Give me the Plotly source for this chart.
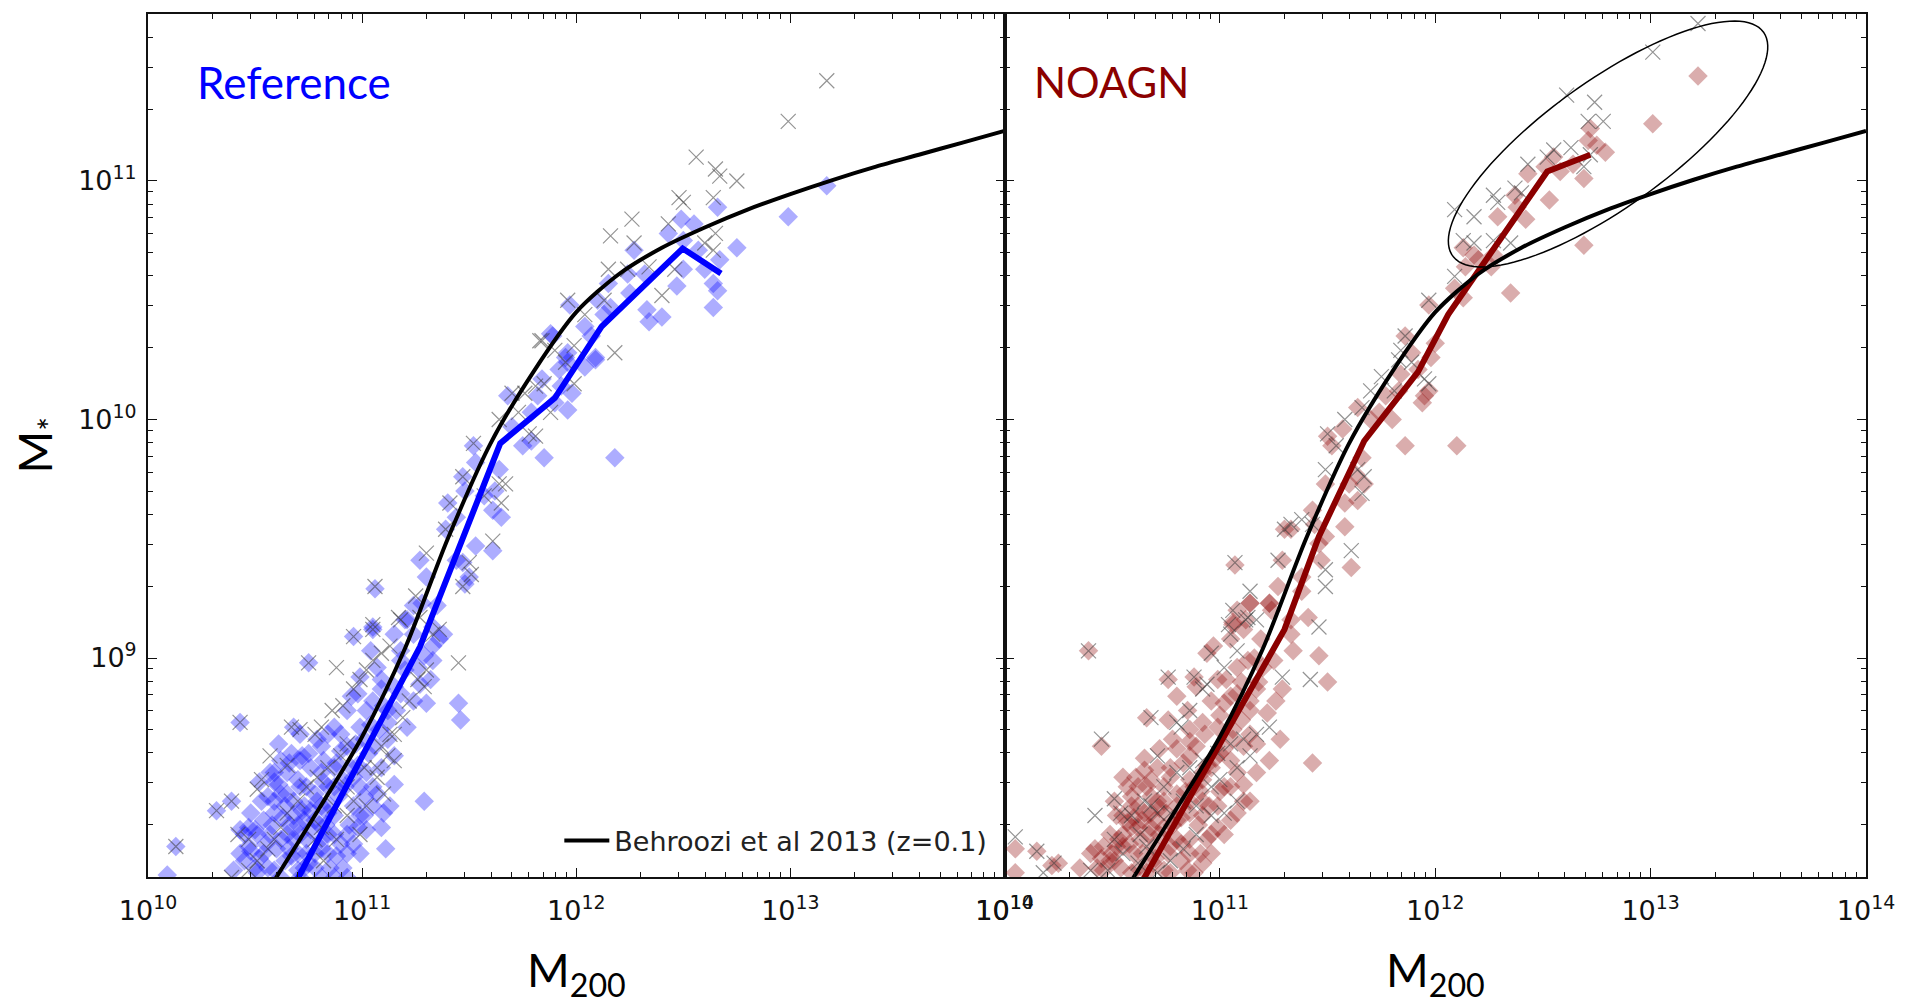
import numpy as np
import plotly.graph_objects as go

# ---------------- data (log10 values) ----------------
tick_vals_x = [1e10, 1e11, 1e12, 1e13, 1e14]
tick_text_x = ["10<sup>10</sup>", "10<sup>11</sup>", "10<sup>12</sup>", "10<sup>13</sup>", "10<sup>14</sup>"]
tick_vals_y = [1e9, 1e10, 1e11]
tick_text_y = ["10<sup>9</sup>", "10<sup>10</sup>", "10<sup>11</sup>"]

panel_labels = ["Reference", "NOAGN"]
legend_label = "Behroozi et al 2013 (z=0.1)"

# Behroozi et al 2013 relation (log M200, log M*)
behroozi_logm200 = [10.55, 10.8, 11.0, 11.2, 11.4, 11.6, 11.8, 12.0, 12.2, 12.4, 12.6, 12.8, 13.0, 13.2,
                    13.4, 13.6, 13.8, 14.0]
behroozi_logmstar = [8.01, 8.37, 8.67, 9.04, 9.50, 9.90, 10.20, 10.45, 10.61, 10.72, 10.805, 10.88, 10.945,
                     11.005, 11.06, 11.11, 11.16, 11.21]

# Median relations
ref_median_logm200 = [10.62, 11.27, 11.645, 11.90, 12.118, 12.497, 12.676]
ref_median_logmstar = [7.94, 9.047, 9.90, 10.09, 10.389, 10.717, 10.612]
noagn_median_logm200 = [10.60, 11.10, 11.30, 11.46, 11.67, 11.92, 12.06, 12.52, 12.72]
noagn_median_logmstar = [8.00, 8.80, 9.12, 9.51, 9.91, 10.20, 10.44, 11.04, 11.11]

# Reference run: galaxies (diamonds), (log M200, log M*)
ref_galaxies = [
    (10.13, 8.21), (10.32, 8.36), (10.39, 8.40), (10.43, 8.73), (10.75, 8.98), (10.96, 9.09), (11.05, 9.12),
    (11.11, 8.20), (11.29, 8.40), (11.30, 8.81), (10.09, 8.09), (10.52, 8.48), (10.59, 8.48), (10.57, 8.52),
    (10.61, 8.64), (10.68, 8.71), (10.71, 8.68), (10.72, 8.59), (10.79, 8.66), (10.81, 8.63), (10.84, 8.68),
    (10.87, 8.71), (10.93, 8.78), (10.90, 8.61), (10.98, 8.85), (10.99, 8.71), (11.02, 8.78), (11.01, 8.66),
    (11.05, 8.82), (11.09, 8.87), (11.12, 8.78), (11.15, 8.88), (11.18, 8.85), (11.21, 8.71), (11.24, 8.82),
    (11.27, 8.89), (11.32, 8.91), (11.33, 8.99), (11.36, 9.08), (11.33, 9.05), (11.18, 9.03), (11.15, 9.10),
    (11.21, 9.16), (11.24, 9.22), (11.07, 8.96), (11.04, 9.03), (10.99, 8.92), (10.95, 8.84), (11.09, 8.91),
    (11.12, 8.66), (11.15, 8.59), (11.09, 8.54), (11.15, 8.47), (11.10, 8.35), (11.13, 8.38), (11.07, 8.43),
    (10.99, 8.46), (10.96, 8.38), (10.93, 8.26), (10.87, 8.34), (10.84, 8.26), (10.81, 8.20), (10.78, 8.12),
    (10.74, 8.18), (10.71, 8.26), (10.68, 8.34), (10.64, 8.38), (10.62, 8.43), (10.59, 8.40), (10.54, 8.32),
    (10.51, 8.26), (10.47, 8.21), (10.45, 8.15), (10.50, 8.12), (10.54, 8.18), (10.62, 8.24), (10.67, 8.17),
    (10.59, 8.11), (10.70, 8.11), (10.85, 8.12), (10.88, 8.17), (10.93, 8.18), (10.91, 8.12), (10.98, 8.29),
    (11.01, 8.34), (11.05, 8.46), (11.02, 8.52), (10.95, 8.54), (10.91, 8.49), (10.87, 8.54), (10.84, 8.46),
    (10.79, 8.40), (10.74, 8.46), (10.73, 8.38), (10.78, 8.32), (10.70, 8.49), (10.65, 8.52), (10.82, 8.57),
    (10.93, 8.63), (10.90, 8.68), (11.18, 8.99), (11.26, 8.96), (11.29, 9.01), (11.24, 9.10), (11.33, 9.13),
    (11.38, 9.10), (11.35, 9.22), (10.45, 8.26), (10.43, 8.28), (10.40, 8.11), (10.50, 8.28), (10.56, 8.42),
    (10.59, 8.35), (10.65, 8.43), (10.68, 8.40), (10.71, 8.46), (10.78, 8.43), (10.81, 8.38), (10.84, 8.35),
    (10.73, 8.32), (10.65, 8.26), (10.68, 8.24), (10.74, 8.24), (10.81, 8.24), (10.87, 8.26), (10.78, 8.18),
    (10.73, 8.12), (10.64, 8.15), (10.56, 8.12), (10.51, 8.10), (10.62, 8.08), (10.71, 8.08), (10.81, 8.08),
    (10.87, 8.08), (10.93, 8.08), (10.99, 8.18), (10.96, 8.22), (11.02, 8.28), (11.05, 8.38), (11.09, 8.29),
    (11.01, 8.42), (10.87, 8.46), (10.81, 8.52), (10.76, 8.54), (10.71, 8.57), (10.67, 8.60), (10.62, 8.57),
    (10.59, 8.52), (10.53, 8.40), (10.48, 8.35), (10.47, 8.29), (10.43, 8.18),
    (10.55, 8.22), (10.58, 8.30), (10.63, 8.33), (10.66, 8.30), (10.70, 8.30), (10.72, 8.36), (10.76, 8.36),
    (10.76, 8.28), (10.80, 8.30), (10.83, 8.30), (10.85, 8.38), (10.89, 8.42), (10.92, 8.46), (10.96, 8.50),
    (10.98, 8.55), (11.03, 8.60), (11.06, 8.63), (11.08, 8.70), (11.12, 8.73), (11.16, 8.78), (10.60, 8.20),
    (10.66, 8.20), (10.70, 8.18), (10.75, 8.14), (10.84, 8.18), (10.90, 8.22), (10.94, 8.30), (10.99, 8.34),
    (10.52, 8.16), (10.48, 8.19), (10.57, 8.26), (10.61, 8.47), (10.66, 8.56), (10.75, 8.60), (10.82, 8.48),
    (10.88, 8.56), (10.97, 8.64), (11.04, 8.72), (11.10, 8.80), (11.20, 8.95),
    (11.06, 9.29), (11.05, 9.13), (11.20, 9.16), (11.28, 9.23), (11.27, 9.41), (11.30, 9.34), (11.39, 9.54),
    (11.40, 9.65), (11.44, 9.59), (11.47, 9.76), (11.48, 9.70), (11.53, 9.47), (11.44, 9.41), (11.47, 9.40),
    (11.48, 9.31), (11.50, 9.34), (11.57, 9.68), (11.61, 9.62), (11.62, 9.70), (11.64, 9.79), (11.65, 9.59),
    (11.61, 9.45), (11.53, 9.82), (11.52, 9.89), (11.68, 10.10), (11.70, 9.97), (11.75, 9.89), (11.79, 9.91),
    (11.82, 10.10), (11.85, 9.84), (11.84, 10.17), (11.90, 10.07), (11.93, 10.14), (11.96, 10.04),
    (11.98, 10.11), (11.96, 10.24), (11.95, 10.26), (12.04, 10.22), (12.07, 10.35), (12.09, 10.25),
    (11.92, 10.21), (11.88, 10.36), (11.79, 10.03),
    (11.89, 10.35), (11.97, 10.48), (12.04, 10.39), (12.10, 10.50), (12.13, 10.44), (12.15, 10.57),
    (12.16, 10.47), (12.25, 10.53), (12.27, 10.71), (12.24, 10.61), (12.32, 10.61), (12.33, 10.46),
    (12.34, 10.41), (12.40, 10.43), (12.43, 10.78), (12.47, 10.56), (12.49, 10.84), (12.50, 10.75),
    (12.50, 10.63), (12.55, 10.82), (12.57, 10.71), (12.60, 10.63), (12.64, 10.47), (12.64, 10.57),
    (12.66, 10.54), (12.66, 10.89), (12.67, 10.67), (12.75, 10.72), (12.99, 10.85), (13.17, 10.98),
    (11.96, 10.28), (12.09, 10.26), (12.18, 9.84), (11.45, 8.81), (11.46, 8.74),
]

# Reference run: crosses
ref_crosses = [
    (10.13, 8.21), (10.32, 8.36), (10.39, 8.40), (10.43, 8.73), (10.75, 8.98), (10.88, 8.96), (10.96, 9.09),
    (11.05, 9.12), (10.57, 8.59), (10.65, 8.55), (10.51, 8.45), (10.53, 8.49), (10.67, 8.71), (10.71, 8.70),
    (10.78, 8.68), (10.81, 8.71), (10.86, 8.78), (10.91, 8.80), (10.96, 8.87), (10.99, 8.91), (11.02, 8.95),
    (11.05, 8.99), (11.09, 9.02), (11.13, 9.05), (11.18, 9.16), (11.27, 9.17), (11.33, 9.10), (11.36, 9.12),
    (11.30, 8.95), (11.29, 8.88), (11.13, 8.68), (11.09, 8.63), (11.12, 8.59), (11.15, 8.57), (11.10, 8.43),
    (11.07, 8.50), (11.01, 8.54), (10.93, 8.64), (10.90, 8.59), (10.84, 8.54), (10.79, 8.50), (10.74, 8.46),
    (10.70, 8.40), (10.65, 8.35), (10.62, 8.29), (10.59, 8.24), (10.56, 8.20), (10.51, 8.15), (10.47, 8.11),
    (10.42, 8.26), (10.47, 8.24), (10.39, 8.08), (10.78, 8.24), (10.81, 8.29), (10.87, 8.38), (10.93, 8.34),
    (10.96, 8.40), (10.99, 8.26), (10.88, 8.24), (10.82, 8.15), (10.93, 8.46), (11.02, 8.38), (11.07, 8.54),
    (11.15, 8.68), (11.19, 8.75), (11.22, 8.82), (11.26, 8.91),
    (11.06, 9.30), (11.05, 9.14), (11.17, 9.17), (11.25, 9.26), (11.30, 9.44), (11.39, 9.54), (11.41, 9.65),
    (11.47, 9.76), (11.52, 9.90), (11.57, 9.68), (11.64, 9.73), (11.67, 9.73), (11.65, 9.65), (11.61, 9.49),
    (11.47, 9.30), (11.51, 9.35), (11.50, 9.40), (11.70, 10.11), (11.64, 10.00), (11.73, 10.03),
    (11.78, 9.94), (11.81, 9.93), (11.76, 10.11), (11.81, 10.14), (11.85, 10.15), (11.84, 10.33),
    (11.90, 10.29), (11.95, 10.24), (11.99, 10.31), (11.88, 10.03), (11.99, 10.15),
    (11.83, 10.33), (11.96, 10.50), (12.04, 10.44), (12.15, 10.63), (12.13, 10.50), (12.16, 10.77),
    (12.26, 10.84), (12.27, 10.74), (12.24, 10.63), (12.34, 10.64), (12.40, 10.52), (12.43, 10.82),
    (12.48, 10.93), (12.50, 10.91), (12.46, 10.63), (12.56, 11.10), (12.64, 10.93), (12.65, 11.05),
    (12.67, 11.02), (12.75, 11.00), (12.60, 10.74), (12.65, 10.78), (12.64, 10.71), (12.99, 11.25),
    (13.17, 11.42), (12.18, 10.28), (11.45, 8.98),
]

# NOAGN run: galaxies (diamonds)
noagn_galaxies = [
    (10.39, 9.03), (10.45, 8.63), (10.05, 8.20), (10.15, 8.19), (10.22, 8.13), (10.25, 8.14), (10.05, 8.10),
    (10.42, 8.20), (10.43, 8.12), (10.76, 8.91), (10.88, 8.92), (10.80, 8.84), (10.66, 8.75), (10.76, 8.74),
    (10.78, 8.66), (10.85, 8.78), (10.86, 8.70), (10.89, 8.63), (10.92, 8.73), (10.96, 8.82), (10.94, 9.02),
    (10.97, 9.05), (11.05, 9.08), (11.06, 9.15), (11.08, 9.20), (11.14, 9.23), (11.23, 9.23), (11.11, 9.12),
    (11.19, 9.08), (11.20, 8.96), (11.25, 8.99), (11.33, 9.10), (11.34, 9.03), (11.29, 8.87), (11.26, 8.82),
    (11.22, 8.77), (11.14, 8.78), (11.08, 8.85), (11.02, 8.81), (10.99, 8.71), (11.06, 8.66), (11.11, 8.63),
    (11.14, 8.68), (11.17, 8.64), (11.28, 8.66), (11.23, 8.57), (11.17, 8.52), (11.14, 8.40), (11.11, 8.47),
    (11.05, 8.57), (11.00, 8.60), (10.96, 8.54), (10.92, 8.49), (10.86, 8.59), (10.83, 8.56), (10.77, 8.50),
    (10.71, 8.54), (10.65, 8.53), (10.55, 8.50), (10.57, 8.46), (10.51, 8.40), (10.59, 8.38), (10.65, 8.35),
    (10.71, 8.40), (10.74, 8.46), (10.80, 8.43), (10.86, 8.35), (10.92, 8.40), (10.99, 8.38), (11.02, 8.46),
    (11.08, 8.52), (11.05, 8.32), (10.99, 8.29), (10.94, 8.24), (10.91, 8.18), (10.86, 8.24), (10.82, 8.15),
    (10.77, 8.21), (10.72, 8.26), (10.68, 8.29), (10.63, 8.24), (10.60, 8.18), (10.55, 8.26), (10.52, 8.21),
    (10.49, 8.15), (10.46, 8.11), (10.54, 8.12), (10.62, 8.12), (10.69, 8.14), (10.74, 8.11), (10.85, 8.11),
    (10.92, 8.14), (10.80, 8.32), (10.69, 8.21), (10.59, 8.29), (10.66, 8.46), (10.99, 8.91), (11.08, 8.96),
    (11.13, 8.99), (11.17, 8.87), (10.89, 8.88), (11.03, 8.91),
    (10.49, 8.26), (10.55, 8.34), (10.62, 8.38), (10.68, 8.42), (10.74, 8.40), (10.80, 8.38), (10.86, 8.40),
    (10.92, 8.34), (10.96, 8.26), (10.86, 8.18), (10.80, 8.24), (10.74, 8.29), (10.68, 8.35), (10.62, 8.29),
    (10.55, 8.21), (10.51, 8.15), (10.59, 8.10), (10.66, 8.10), (10.77, 8.10), (10.88, 8.10), (10.96, 8.18),
    (11.02, 8.26), (11.08, 8.35), (11.11, 8.40), (11.05, 8.46), (10.92, 8.52), (10.86, 8.49), (10.77, 8.54),
    (10.68, 8.49), (10.62, 8.46), (10.59, 8.42), (10.52, 8.34), (10.46, 8.21), (10.40, 8.18), (10.35, 8.12),
    (10.53, 8.24), (10.57, 8.31), (10.60, 8.33), (10.64, 8.32), (10.67, 8.26), (10.70, 8.32), (10.72, 8.37),
    (10.75, 8.35), (10.78, 8.30), (10.82, 8.33), (10.84, 8.44), (10.88, 8.46), (10.91, 8.44), (10.94, 8.55),
    (10.98, 8.58), (11.02, 8.62), (11.06, 8.70), (11.10, 8.74), (11.14, 8.82), (11.18, 8.90), (10.58, 8.22),
    (10.64, 8.18), (10.70, 8.16), (10.76, 8.18), (10.82, 8.22), (10.90, 8.30), (10.95, 8.38), (11.00, 8.44),
    (10.50, 8.18), (10.45, 8.16), (10.61, 8.50), (10.65, 8.58), (10.72, 8.62), (10.80, 8.62), (10.86, 8.65),
    (10.93, 8.68), (11.00, 8.76), (11.05, 8.84), (11.10, 8.90), (11.16, 9.00),
    (11.07, 9.39), (11.06, 9.14), (11.14, 9.23), (11.12, 9.16), (11.23, 9.23), (11.24, 9.20), (11.27, 9.30),
    (11.29, 9.41), (11.30, 9.54), (11.33, 9.54), (11.38, 9.34), (11.41, 9.17), (11.43, 9.62), (11.44, 9.56),
    (11.46, 9.48), (11.47, 9.41), (11.49, 9.73), (11.50, 9.93), (11.52, 9.89), (11.57, 9.96), (11.58, 9.65),
    (11.61, 9.38), (11.58, 9.55), (11.60, 9.73), (11.63, 9.77), (11.64, 9.66), (11.66, 9.84), (11.67, 9.73),
    (11.70, 10.00), (11.74, 10.03), (11.77, 10.10), (11.80, 10.00), (11.83, 10.12), (11.84, 10.19),
    (11.86, 9.89), (11.86, 10.35), (11.89, 10.28), (11.92, 10.21), (11.94, 10.07), (11.95, 10.10),
    (11.97, 10.12), (11.98, 10.26), (12.00, 10.32), (11.49, 9.51), (11.38, 9.28), (11.33, 9.16),
    (11.64, 10.05),
    (11.97, 10.48), (12.09, 10.55), (12.13, 10.51), (12.13, 10.72), (12.18, 10.69), (12.20, 10.67),
    (12.14, 10.64), (12.27, 10.69), (12.29, 10.85), (12.35, 10.53), (12.37, 10.94), (12.38, 10.89),
    (12.42, 10.84), (12.43, 11.03), (12.53, 10.92), (12.51, 11.06), (12.55, 11.10), (12.58, 11.04),
    (12.64, 11.07), (12.69, 11.01), (12.71, 11.17), (12.72, 11.22), (12.75, 11.15), (12.79, 11.12),
    (12.69, 10.73), (13.01, 11.24), (13.22, 11.44), (12.26, 10.64),
    (12.10, 9.89), (11.43, 8.56), (11.50, 8.90), (11.46, 9.01),
]

# NOAGN run: crosses
noagn_crosses = [
    (10.39, 9.03), (10.45, 8.66), (10.05, 8.25), (10.15, 8.19), (10.23, 8.14), (10.18, 8.10), (10.42, 8.34),
    (10.51, 8.41), (10.54, 8.35), (10.59, 8.34), (10.65, 8.40), (10.68, 8.38), (10.63, 8.26), (10.66, 8.21),
    (10.71, 8.59), (10.76, 8.92), (10.88, 8.92), (10.68, 8.75), (10.80, 8.73), (10.82, 8.71), (10.86, 8.78),
    (10.92, 8.87), (10.94, 8.89), (10.96, 9.02), (11.02, 8.96), (11.08, 9.03), (11.05, 9.10), (11.06, 9.20),
    (11.13, 9.17), (11.17, 9.16), (11.29, 8.92), (11.23, 8.71), (11.17, 8.68), (11.11, 8.66), (11.05, 8.64),
    (10.99, 8.60), (10.92, 8.57), (10.86, 8.54), (10.80, 8.52), (10.74, 8.46), (10.71, 8.35), (10.77, 8.35),
    (10.83, 8.40), (10.89, 8.38), (10.96, 8.46), (11.00, 8.49), (11.08, 8.54), (11.14, 8.59), (10.89, 8.26),
    (10.83, 8.20), (10.77, 8.15), (10.71, 8.10), (10.62, 8.14), (10.55, 8.18), (10.51, 8.24), (10.48, 8.11),
    (10.40, 8.11), (10.96, 8.34), (11.02, 8.35), (11.08, 8.40),
    (11.07, 9.40), (11.14, 9.28), (11.12, 9.16), (11.04, 9.14), (11.27, 9.41), (11.30, 9.54), (11.33, 9.56),
    (11.38, 9.58), (11.49, 9.37), (11.49, 9.30), (11.46, 9.13), (11.49, 9.79), (11.50, 9.94), (11.54, 9.89),
    (11.58, 10.00), (11.61, 9.45), (11.64, 9.79), (11.66, 9.69), (11.67, 9.76), (11.66, 10.05),
    (11.70, 10.12), (11.75, 10.18), (11.81, 10.12), (11.83, 10.25), (11.86, 10.35), (11.89, 10.24),
    (11.95, 10.17), (11.97, 10.15), (11.84, 10.29), (11.43, 9.56),
    (11.97, 10.50), (12.09, 10.88), (12.09, 10.60), (12.13, 10.75), (12.18, 10.85), (12.18, 10.74),
    (12.27, 10.75), (12.27, 10.94), (12.29, 10.91), (12.35, 10.74), (12.37, 10.97), (12.40, 10.95),
    (12.43, 11.07), (12.52, 11.10), (12.55, 11.13), (12.63, 11.14), (12.69, 11.06), (12.71, 11.25),
    (12.74, 11.33), (12.78, 11.25), (12.61, 11.36), (13.01, 11.54), (13.22, 11.66), (12.72, 11.11),
    (11.42, 8.91),
]

ref_gal_logm200, ref_gal_logmstar = [p[0] for p in ref_galaxies], [p[1] for p in ref_galaxies]
ref_x_logm200, ref_x_logmstar = [p[0] for p in ref_crosses], [p[1] for p in ref_crosses]
noagn_gal_logm200, noagn_gal_logmstar = [p[0] for p in noagn_galaxies], [p[1] for p in noagn_galaxies]
noagn_x_logm200, noagn_x_logmstar = [p[0] for p in noagn_crosses], [p[1] for p in noagn_crosses]

# ---------------- layout geometry ----------------
W, H = 1907, 1008
ML, MR, MT, MB = 148, 34, 14, 131
PW, PH = W - ML - MR, H - MT - MB
SPLIT = 1008


def px(xp):
    return (xp - ML) / PW


def py(yp):
    return (H - MB - yp) / PH


def lin(v):
    return 10 ** np.asarray(v, dtype=float)


BLUE = "rgba(0,0,255,0.32)"
RED = "rgba(139,0,0,0.32)"
CROSS = "rgba(60,60,60,0.55)"

fig = go.Figure()

panels = [
    ("x", "y", ref_gal_logm200, ref_gal_logmstar, ref_x_logm200, ref_x_logmstar, BLUE,
     ref_median_logm200, ref_median_logmstar, "#0000ff"),
    ("x2", "y2", noagn_gal_logm200, noagn_gal_logmstar, noagn_x_logm200, noagn_x_logmstar, RED,
     noagn_median_logm200, noagn_median_logmstar, "#8b0000"),
]
for i, (xa, ya, gx, gy, cx, cy, gcol, mx, my, mcol) in enumerate(panels):
    fig.add_trace(go.Scatter(x=lin(gx), y=lin(gy), mode="markers", xaxis=xa, yaxis=ya, showlegend=False,
                             marker=dict(symbol="diamond", size=15, color=gcol, line=dict(width=0)),
                             hoverinfo="skip"))
    fig.add_trace(go.Scatter(x=lin(cx), y=lin(cy), mode="markers", xaxis=xa, yaxis=ya, showlegend=False,
                             marker=dict(symbol="x-thin", size=15, color=CROSS, line=dict(width=1.2, color=CROSS)),
                             hoverinfo="skip"))
    fig.add_trace(go.Scatter(x=lin(mx), y=lin(my), mode="lines", xaxis=xa, yaxis=ya, showlegend=False,
                             line=dict(color=mcol, width=6), hoverinfo="skip"))
    fig.add_trace(go.Scatter(x=lin(behroozi_logm200), y=lin(behroozi_logmstar), mode="lines", xaxis=xa, yaxis=ya,
                             name=legend_label, showlegend=(i == 0),
                             line=dict(color="black", width=4, shape="spline", smoothing=0.8), hoverinfo="skip"))

minor_x = [m * 10.0 ** e for e in range(10, 14) for m in range(2, 10)]
minor_y = [m * 10.0 ** e for e in range(8, 12) for m in range(2, 10)]
tickfont = dict(family="DejaVu Sans", size=27, color="#111")

xcommon = dict(type="log", range=[10, 14], showgrid=False, zeroline=False, showline=True, linewidth=2,
               linecolor="#111", mirror="allticks", ticks="inside", ticklen=9, tickwidth=1, tickcolor="#111",
               tickmode="array", tickvals=tick_vals_x, ticktext=tick_text_x, tickfont=tickfont,
               ticklabelstandoff=9,
               minor=dict(tickmode="array", tickvals=minor_x, ticks="inside", ticklen=5, tickwidth=1,
                          tickcolor="#111", showgrid=False))
ycommon = dict(type="log", range=[8.082, 11.70], showgrid=False, zeroline=False, showline=True, linewidth=2,
               linecolor="#111", mirror="allticks", ticks="inside", ticklen=9, tickwidth=1, tickcolor="#111",
               tickmode="array", tickvals=tick_vals_y, ticktext=tick_text_y,
               minor=dict(tickmode="array", tickvals=minor_y, ticks="inside", ticklen=5, tickwidth=1,
                          tickcolor="#111", showgrid=False))

split = px(SPLIT)
fig.update_layout(
    width=W, height=H, autosize=False,
    margin=dict(l=ML, r=MR, t=MT, b=MB),
    paper_bgcolor="white", plot_bgcolor="white",
    xaxis=dict(domain=[0, split], anchor="y", **xcommon),
    xaxis2=dict(domain=[split, 1], anchor="y2", **xcommon),
    yaxis=dict(domain=[0, 1], anchor="x", ticklabelstandoff=4, tickfont=tickfont, **ycommon),
    yaxis2=dict(domain=[0, 1], anchor="x2", matches="y", showticklabels=False, **ycommon),
    legend=dict(x=px(561), y=py(841), xanchor="left", yanchor="middle", bgcolor="rgba(0,0,0,0)",
                font=dict(family="DejaVu Sans", size=27, color="#222"), borderwidth=0, itemwidth=45),
    showlegend=True,
)

# Axis titles and panel labels
title_font = dict(family="Lato, Open Sans, sans-serif", size=46, color="black")
fig.add_annotation(x=px((ML + SPLIT) / 2), y=py(973), xref="paper", yref="paper", text="M<sub>200</sub>",
                   showarrow=False, font=title_font, xanchor="center", yanchor="middle")
fig.add_annotation(x=px((SPLIT + W - MR) / 2), y=py(973), xref="paper", yref="paper", text="M<sub>200</sub>",
                   showarrow=False, font=title_font, xanchor="center", yanchor="middle")
fig.add_annotation(x=px(38), y=py(445), xref="paper", yref="paper", text="M<sub>*</sub>", textangle=-90,
                   showarrow=False, font=title_font, xanchor="center", yanchor="middle")
fig.add_annotation(x=px(195), y=py(82), xref="paper", yref="paper", text=panel_labels[0], showarrow=False,
                   font=dict(family="Lato, Open Sans, sans-serif", size=44, color="#0000ff"),
                   xanchor="left", yanchor="middle")
fig.add_annotation(x=px(1036), y=py(82), xref="paper", yref="paper", text=panel_labels[1], showarrow=False,
                   font=dict(family="Lato, Open Sans, sans-serif", size=42, color="#8b0000"),
                   xanchor="left", yanchor="middle")

# Highlight ellipse around the massive NOAGN haloes
cx0, cy0, a, b, ang = 1614.0, 144.0, 192.0, 63.0, np.deg2rad(35.6)
t = np.linspace(0, 2 * np.pi, 120)
ex = cx0 + a * np.cos(t) * np.cos(ang) + b * np.sin(t) * np.sin(ang)
ey = cy0 - a * np.cos(t) * np.sin(ang) + b * np.sin(t) * np.cos(ang)
path = "M " + " L ".join(f"{px(u):.5f},{py(v):.5f}" for u, v in zip(ex, ey)) + " Z"
fig.add_shape(type="path", path=path, xref="paper", yref="paper", line=dict(color="black", width=1.5))

fig.write_html("out.html")
